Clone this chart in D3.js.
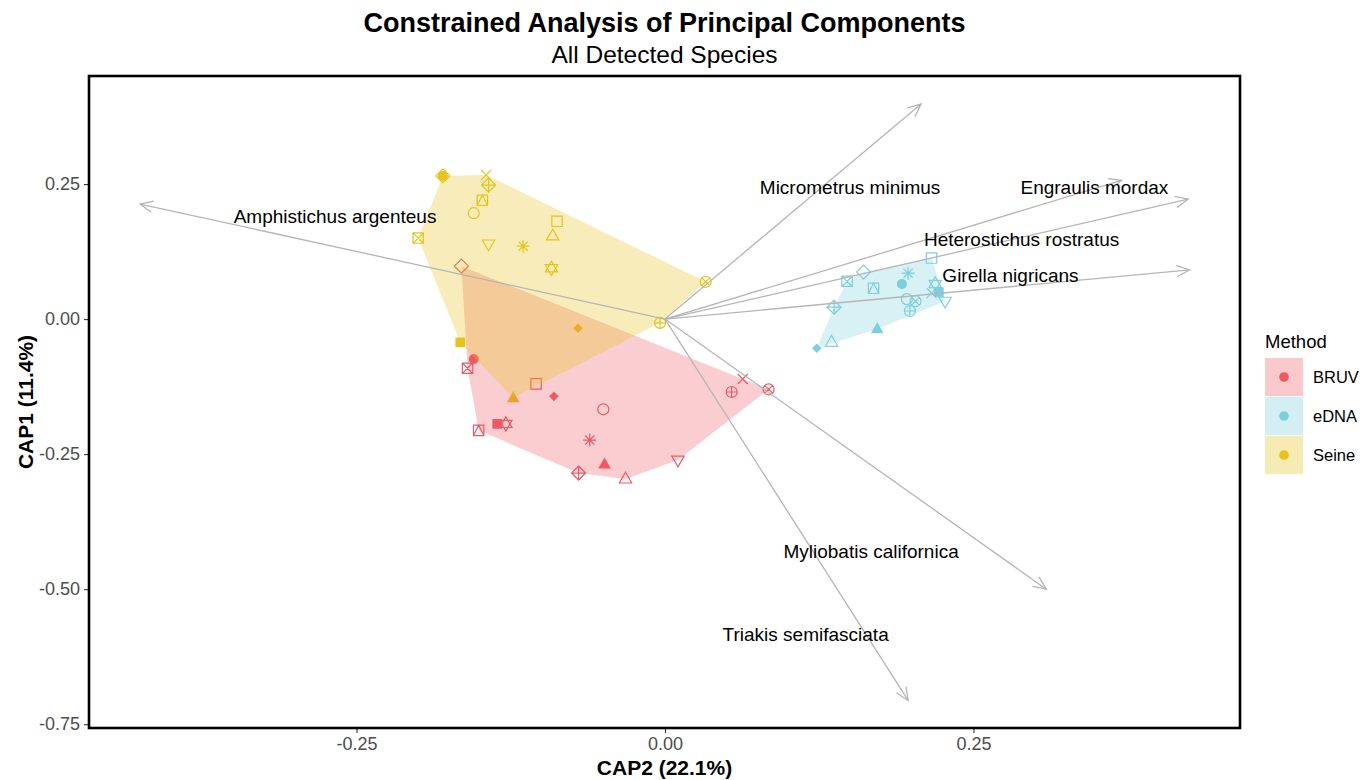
<!DOCTYPE html>
<html>
<head>
<meta charset="utf-8">
<script src="https://cdn.jsdelivr.net/npm/d3@7"></script>
<style>
  html, body { margin: 0; padding: 0; background: #ffffff; }
  svg { display: block; font-family: "Liberation Sans", Arial, Helvetica, sans-serif; }
</style>
</head>
<body>
<svg id="chart" width="1371" height="780"></svg>
<script>
// ---------------- DATA ----------------
const methods = ["BRUV", "eDNA", "Seine"];
const methodColors = ["#EE5A64", "#7CCFDF", "#E8C31C"];

// ggplot shape codes, same order for each method
const shapeCodes = [0, 1, 2, 4, 5, 6, 7, 8, 9, 10, 11, 13, 14, 15, 16, 17, 18];

const bruvX = [-0.1045, -0.050, -0.032, 0.063, -0.165, 0.0105, -0.160, -0.061, -0.070, 0.054, -0.129, 0.084, -0.151, -0.136, -0.155, -0.049, -0.090];
const bruvY = [-0.120, -0.167, -0.296, -0.111, 0.098, -0.261, -0.091, -0.224, -0.285, -0.135, -0.194, -0.130, -0.206, -0.194, -0.074, -0.269, -0.143];

const ednaX = [0.216, 0.196, 0.135, 0.216, 0.161, 0.227, 0.1475, 0.197, 0.137, 0.1985, 0.219, 0.203, 0.169, 0.222, 0.192, 0.172, 0.123];
const ednaY = [0.113, 0.037, -0.043, 0.048, 0.087, 0.033, 0.070, 0.085, 0.022, 0.015, 0.065, 0.033, 0.057, 0.050, 0.065, -0.0185, -0.054];

const seineX = [-0.0875, -0.155, -0.091, -0.145, -0.180, -0.143, -0.200, -0.115, -0.143, -0.004, -0.092, 0.033, -0.148, -0.166, -0.180, -0.123, -0.0705];
const seineY = [0.181, 0.196, 0.154, 0.267, 0.265, 0.139, 0.150, 0.135, 0.248, -0.007, 0.094, 0.069, 0.220, -0.043, 0.265, -0.146, -0.017];

// species vectors (arrow tips) and label positions
const species = ["Amphistichus argenteus", "Micrometrus minimus", "Engraulis mordax", "Heterostichus rostratus", "Girella nigricans", "Myliobatis californica", "Triakis semifasciata"];
const vecX = [-0.4254, 0.2075, 0.370, 0.424, 0.425, 0.309, 0.197];
const vecY = [0.213, 0.398, 0.257, 0.222, 0.091, -0.500, -0.706];
const labX = [-0.2674, 0.150, 0.348, 0.289, 0.280, 0.167, 0.114];
const labY = [0.189, 0.243, 0.243, 0.148, 0.080, -0.430, -0.583];

const xTicks = [-0.25, 0, 0.25];
const yTicks = [-0.75, -0.5, -0.25, 0, 0.25];

const titleText = "Constrained Analysis of Principal Components";
const subtitleText = "All Detected Species";
const xTitle = "CAP2 (22.1%)";
const yTitle = "CAP1 (11.4%)";
const legendTitle = "Method";

// ---------------- BUILD ----------------
const seriesX = [bruvX, ednaX, seineX];
const seriesY = [bruvY, ednaY, seineY];
const points = [];
methods.forEach((m, mi) => {
  shapeCodes.forEach((s, i) => {
    points.push({ method: m, mi: mi, shape: s, x: seriesX[mi][i], y: seriesY[mi][i] });
  });
});

const svg = d3.select("#chart");
const P = { left: 89, right: 1240, top: 76, bottom: 728 };
const x = d3.scaleLinear().domain([-0.4668, 0.4660]).range([P.left, P.right]);
const y = d3.scaleLinear().domain([-0.757, 0.450]).range([P.bottom, P.top]);

// clip
svg.append("defs").append("clipPath").attr("id", "panel")
  .append("rect").attr("x", P.left).attr("y", P.top)
  .attr("width", P.right - P.left).attr("height", P.bottom - P.top);

// shape paths
const SQ = 5.2, CR = 5.5, DI = 7;
const sqP = h => `M${-h},${-h}H${h}V${h}H${-h}Z`;
const circP = r => `M${-r},0A${r},${r} 0 1,0 ${r},0A${r},${r} 0 1,0 ${-r},0Z`;
const triUpP = "M0,-6.8L6.2,4.0L-6.2,4.0Z";
const triDnP = "M0,6.8L6.2,-4.0L-6.2,-4.0Z";
const diaP = h => `M0,${-h}L${h},0L0,${h}L${-h},0Z`;
const xP = h => `M${-h},${-h}L${h},${h}M${-h},${h}L${h},${-h}`;
const plusP = h => `M${-h},0H${h}M0,${-h}V${h}`;
function shapeDef(code) {
  switch (code) {
    case 0: return { d: sqP(SQ), fill: false };
    case 1: return { d: circP(CR), fill: false };
    case 2: return { d: triUpP, fill: false };
    case 4: return { d: xP(5), fill: false };
    case 5: return { d: diaP(DI), fill: false };
    case 6: return { d: triDnP, fill: false };
    case 7: return { d: sqP(SQ) + xP(SQ), fill: false };
    case 8: return { d: plusP(6.5) + xP(4.6), fill: false };
    case 9: return { d: diaP(DI) + plusP(DI), fill: false };
    case 10: return { d: circP(CR) + plusP(CR), fill: false };
    case 11: return { d: "M0,-7.2L6.2,3.6L-6.2,3.6Z M0,7.2L6.2,-3.6L-6.2,-3.6Z", fill: false };
    case 13: return { d: circP(CR) + xP(CR * 0.707), fill: false };
    case 14: return { d: sqP(SQ) + `M${-SQ},${SQ}L0,${-SQ}L${SQ},${SQ}`, fill: false };
    case 15: return { d: sqP(4.8), fill: true };
    case 16: return { d: circP(5), fill: true };
    case 17: return { d: "M0,-7L6.3,4.2L-6.3,4.2Z", fill: true };
    case 18: return { d: diaP(4.8), fill: true };
  }
}

const plot = svg.append("g").attr("clip-path", "url(#panel)");

// points (drawn first, hulls overlay them)
plot.append("g").selectAll("path").data(points).join("path")
  .attr("transform", d => `translate(${x(d.x)},${y(d.y)})`)
  .attr("d", d => shapeDef(d.shape).d)
  .attr("fill", d => shapeDef(d.shape).fill ? methodColors[d.mi] : "none")
  .attr("stroke", d => shapeDef(d.shape).fill ? "none" : methodColors[d.mi])
  .attr("stroke-width", 1.2);

// hulls
methods.forEach((m, mi) => {
  const pts = points.filter(p => p.mi === mi).map(p => [x(p.x), y(p.y)]);
  const hull = d3.polygonHull(pts);
  plot.append("path")
    .attr("d", "M" + hull.join("L") + "Z")
    .attr("fill", methodColors[mi])
    .attr("fill-opacity", 0.3)
    .attr("stroke", "none");
});

// arrows
const arrowG = plot.append("g").attr("stroke", "#b5b5b5").attr("stroke-width", 1.3).attr("fill", "none");
species.forEach((s, i) => {
  const x0 = x(0), y0 = y(0), x1 = x(vecX[i]), y1 = y(vecY[i]);
  arrowG.append("line").attr("x1", x0).attr("y1", y0).attr("x2", x1).attr("y2", y1);
  const ang = Math.atan2(y1 - y0, x1 - x0);
  const L = 14, a = Math.PI / 7.5;
  const p1 = [x1 - L * Math.cos(ang - a), y1 - L * Math.sin(ang - a)];
  const p2 = [x1 - L * Math.cos(ang + a), y1 - L * Math.sin(ang + a)];
  arrowG.append("path").attr("d", `M${p1[0]},${p1[1]}L${x1},${y1}L${p2[0]},${p2[1]}`);
});

// labels
plot.append("g").selectAll("text").data(species).join("text")
  .attr("x", (d, i) => x(labX[i]))
  .attr("y", (d, i) => y(labY[i]))
  .attr("text-anchor", "middle")
  .attr("dominant-baseline", "central")
  .attr("font-size", 19)
  .attr("fill", "#000")
  .text(d => d);

// axes
const fmt = d => d.toFixed(2);
const xAxis = svg.append("g").attr("transform", `translate(0,${P.bottom})`)
  .call(d3.axisBottom(x).tickValues(xTicks).tickFormat(fmt).tickSize(5).tickPadding(4));
const yAxis = svg.append("g").attr("transform", `translate(${P.left},0)`)
  .call(d3.axisLeft(y).tickValues(yTicks).tickFormat(fmt).tickSize(5).tickPadding(4));
[xAxis, yAxis].forEach(g => {
  g.select(".domain").remove();
  g.selectAll(".tick line").attr("stroke", "#333").attr("stroke-width", 1.1);
  g.selectAll(".tick text").attr("fill", "#4d4d4d").attr("font-size", 18)
    .attr("font-family", "'Liberation Sans', Arial, Helvetica, sans-serif");
});

// panel border
svg.append("rect").attr("x", P.left).attr("y", P.top)
  .attr("width", P.right - P.left).attr("height", P.bottom - P.top)
  .attr("fill", "none").attr("stroke", "#000").attr("stroke-width", 2.6);

// titles
const cx = (P.left + P.right) / 2;
svg.append("text").attr("x", cx).attr("y", 32).attr("text-anchor", "middle")
  .attr("font-size", 27).attr("font-weight", "bold").text(titleText);
svg.append("text").attr("x", cx).attr("y", 63).attr("text-anchor", "middle")
  .attr("font-size", 24.5).text(subtitleText);
svg.append("text").attr("x", cx).attr("y", 775).attr("text-anchor", "middle")
  .attr("font-size", 21).attr("font-weight", "bold").text(xTitle);
svg.append("text").attr("transform", `translate(33,${(P.top + P.bottom) / 2}) rotate(-90)`)
  .attr("text-anchor", "middle").attr("font-size", 21).attr("font-weight", "bold").text(yTitle);

// legend
const lg = svg.append("g").attr("transform", "translate(1265,0)");
lg.append("text").attr("x", 0).attr("y", 348).attr("font-size", 18.5).text(legendTitle);
methods.forEach((m, i) => {
  const ky = 358 + i * 39;
  lg.append("rect").attr("x", 0).attr("y", ky).attr("width", 38).attr("height", 38)
    .attr("fill", methodColors[i]).attr("fill-opacity", 0.33);
  lg.append("circle").attr("cx", 19).attr("cy", ky + 19).attr("r", 4.8).attr("fill", methodColors[i]);
  lg.append("text").attr("x", 48).attr("y", ky + 19).attr("dominant-baseline", "central")
    .attr("font-size", 16.5).text(m);
});
</script>
</body>
</html>
